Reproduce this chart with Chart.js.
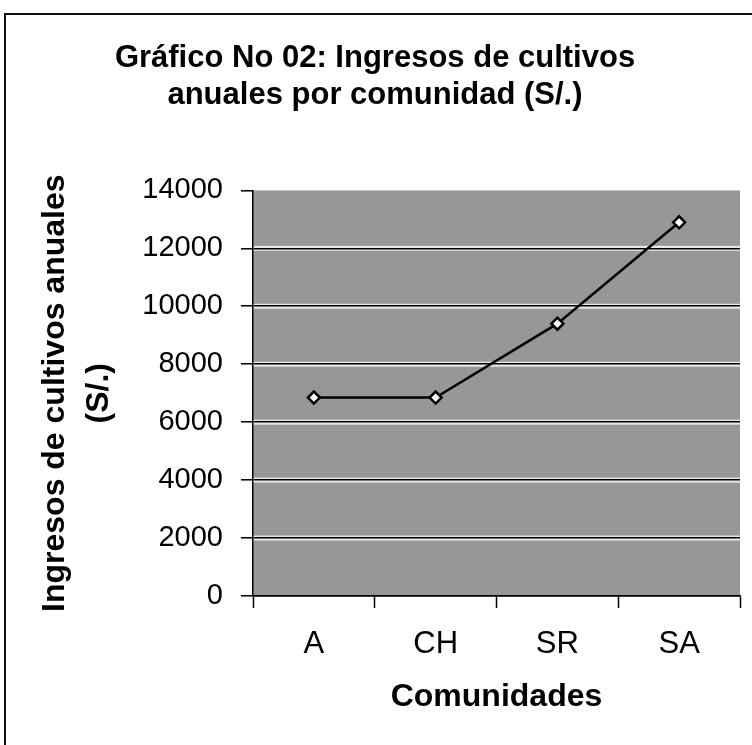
<!DOCTYPE html>
<html>
<head>
<meta charset="utf-8">
<script src="https://cdn.jsdelivr.net/npm/chart.js@4/dist/chart.umd.min.js"></script>
<style>
  html, body { margin: 0; padding: 0; background: #fff; }
  #wrap { position: relative; width: 752px; height: 745px; }
  #frame {
    position: absolute; left: 4px; top: 13px; right: 0; bottom: 0;
    border-left: 2px solid #111; border-top: 2px solid #111;
    pointer-events: none;
  }
</style>
</head>
<body>
<div id="wrap">
  <canvas id="chart"></canvas>
  <div id="frame"></div>
</div>
<script>
// datos
const comunidades = ["A", "CH", "SR", "SA"];
const ingresos = [6850, 6850, 9400, 12900];
const yMin = 0;
const yMax = 14000;
const yStep = 2000;

const tituloGrafico = ["Gráfico No 02: Ingresos de cultivos", "anuales por comunidad (S/.)"];
const tituloY = ["Ingresos de cultivos anuales", "(S/.)"];
const tituloX = "Comunidades";

const FONT = "'Liberation Sans', Arial, Helvetica, sans-serif";

// fondo gris del área de trazado + bandas claras bajo las líneas de división
const plotBg = {
  id: "plotBg",
  beforeDraw(chart){
    const { ctx, chartArea: a, scales } = chart;
    ctx.save();
    ctx.fillStyle = "#979797";
    ctx.fillRect(a.left, a.top, a.right - a.left, a.bottom - a.top);
    ctx.fillStyle = "#e8e8e8";
    for (let v = yMin + yStep; v < yMax; v += yStep){
      const y = scales.y.getPixelForValue(v);
      ctx.fillRect(a.left, y - 2.5, a.right - a.left, 5);
    }
    ctx.restore();
  }
};

new Chart(document.getElementById("chart"), {
  type: "line",
  data: {
    labels: comunidades,
    datasets: [{
      data: ingresos,
      borderColor: "#000",
      borderWidth: 2.5,
      tension: 0,
      pointStyle: "rectRot",
      pointRadius: 6,
      pointBackgroundColor: "#fff",
      pointBorderColor: "#000",
      pointBorderWidth: 2.5
    }]
  },
  options: {
    responsive: true,
    maintainAspectRatio: false,
    animation: false,
    layout: { padding: { left: 10, right: 12, top: 0, bottom: 0 } },
    plugins: {
      legend: { display: false },
      tooltip: { enabled: false },
      title: {
        display: true,
        text: tituloGrafico,
        color: "#000",
        font: { family: FONT, size: 31, weight: "bold", lineHeight: 1.2 },
        padding: { top: 40, bottom: 76 }
      }
    },
    scales: {
      x: {
        offset: true,
        grid: { offset: true, drawOnChartArea: false, tickLength: 12, tickColor: "#000", tickWidth: 1.5 },
        border: { color: "#000", width: 1.5 },
        ticks: { color: "#000", padding: 18, font: { family: FONT, size: 31 } },
        title: {
          display: true,
          text: tituloX,
          color: "#000",
          font: { family: FONT, size: 32, weight: "bold", lineHeight: 1.2 },
          padding: { top: 14, bottom: 29 }
        },
        afterFit(scale){ scale.height = 149; }
      },
      y: {
        min: yMin,
        max: yMax,
        grid: {
          tickLength: 12,
          tickColor: "#000",
          tickWidth: 1.5,
          lineWidth: 1.6,
          color: (c) => (c.tick && c.tick.value === yMax) ? "rgba(0,0,0,0)" : "#000"
        },
        border: { color: "#000", width: 1.5 },
        ticks: {
          stepSize: yStep,
          color: "#000",
          padding: 18,
          font: { family: FONT, size: 29 },
          callback: (v) => String(v)
        },
        title: {
          display: true,
          text: tituloY,
          color: "#000",
          font: { family: FONT, size: 32, weight: "bold", lineHeight: 1.375 },
          padding: { top: 23, bottom: 20 }
        },
        afterFit(scale){ scale.width = 243; }
      }
    }
  },
  plugins: [plotBg]
});
</script>
</body>
</html>
